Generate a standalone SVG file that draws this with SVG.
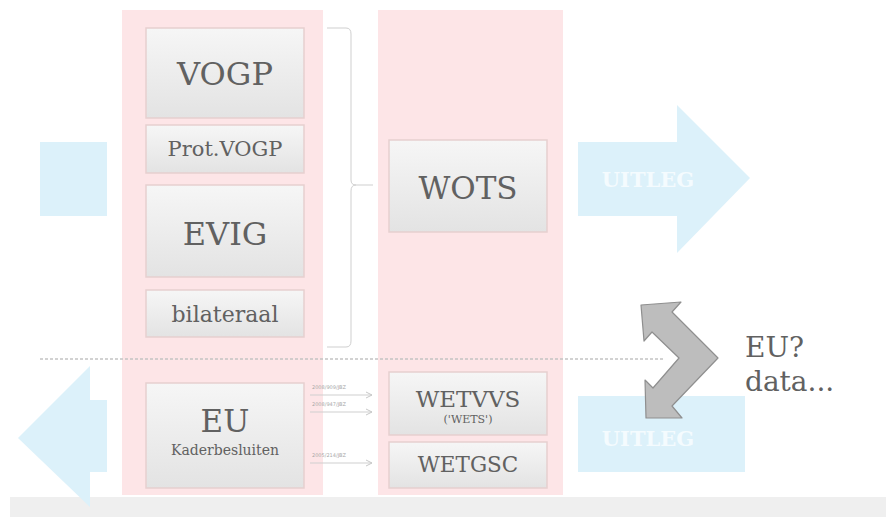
<svg xmlns="http://www.w3.org/2000/svg" width="886" height="517" viewBox="0 0 886 517">
<defs>
<linearGradient id="boxg" x1="0" y1="0" x2="0" y2="1">
<stop offset="0" stop-color="#f6f6f6"/>
<stop offset="1" stop-color="#e3e3e3"/>
</linearGradient>
<marker id="ah" markerWidth="8" markerHeight="8" refX="7" refY="4" orient="auto" markerUnits="userSpaceOnUse">
<path d="M1,1 L7,4 L1,7" fill="none" stroke="#c8c8c8" stroke-width="1"/>
</marker>
</defs>
<style>
.col{fill:#fde5e7}
.box{fill:url(#boxg);stroke:#e6cfcf;stroke-width:1.5}
.t{font-family:"DejaVu Serif","Liberation Serif",serif;fill:#616161;text-anchor:middle}
.blue{fill:#dcf1fa}
.ut{font-family:"DejaVu Serif","Liberation Serif",serif;font-weight:bold;fill:#f4fbfe;font-size:21px;text-anchor:middle}
.lab{font-family:"DejaVu Sans","Liberation Sans",sans-serif;fill:#a8a8a8;font-size:5px}
.conn{stroke:#cfcfcf;stroke-width:1;fill:none}
</style>
<rect x="0" y="0" width="886" height="517" fill="#ffffff"/>
<rect x="10" y="497" width="876" height="20" fill="#efefef"/>
<g id="columns">
<rect class="col" x="122" y="10" width="201" height="485"/>
<rect class="col" x="378" y="10" width="185" height="485"/>
</g>
<g id="blue-left-square"><rect class="blue" x="40" y="142" width="67" height="74"/></g>
<g id="blue-left-arrow"><polygon class="blue" points="18,438 90,366 90,400 107,400 107,472 90,472 90,507"/></g>
<g id="uitleg-top">
<polygon class="blue" points="578,142 677,142 677,105 750,178 677,253 677,216 578,216"/>
<text class="ut" x="648" y="187">UITLEG</text>
</g>
<g id="uitleg-bottom">
<rect class="blue" x="578" y="396" width="167" height="76"/>
<text class="ut" x="648" y="446">UITLEG</text>
</g>
<line x1="40" y1="359" x2="665" y2="359" stroke="#c4c4c4" stroke-width="1.5" stroke-dasharray="3,2"/>
<g id="vogp"><rect class="box" x="146" y="28" width="158" height="90"/><text class="t" x="225" y="85" font-size="32">VOGP</text></g>
<g id="protvogp"><rect class="box" x="146" y="125" width="158" height="48"/><text class="t" x="225" y="156" font-size="21">Prot.VOGP</text></g>
<g id="evig"><rect class="box" x="146" y="185" width="158" height="92"/><text class="t" x="225" y="245" font-size="32">EVIG</text></g>
<g id="bilateraal"><rect class="box" x="146" y="290" width="158" height="47"/><text class="t" x="225" y="322" font-size="22">bilateraal</text></g>
<g id="eu"><rect class="box" x="146" y="383" width="158" height="105"/><text class="t" x="225" y="432" font-size="31">EU</text><text class="t" x="225" y="455" font-size="14">Kaderbesluiten</text></g>
<g id="wots"><rect class="box" x="389" y="140" width="158" height="92"/><text class="t" x="468" y="199" font-size="31">WOTS</text></g>
<g id="wetvvs"><rect class="box" x="389" y="372" width="158" height="63"/><text class="t" x="468" y="407" font-size="23">WETVVS</text><text class="t" x="468" y="423" font-size="11">('WETS')</text></g>
<g id="wetgsc"><rect class="box" x="389" y="442" width="158" height="46"/><text class="t" x="468" y="472" font-size="21.5">WETGSC</text></g>
<g id="connectors">
<path class="conn" d="M327,28 L346,28 Q351,28 351,34 L351,180 Q351,185 356,185 L373,185 M356,185 Q351,185 351,191 L351,341 Q351,347 346,347 L327,347" stroke="#b8b8b8" stroke-width="1.6"/>
<line class="conn" x1="310" y1="395" x2="372" y2="395" marker-end="url(#ah)"/>
<line class="conn" x1="310" y1="412" x2="372" y2="412" marker-end="url(#ah)"/>
<line class="conn" x1="310" y1="463" x2="372" y2="463" marker-end="url(#ah)"/>
<text class="lab" x="312" y="389">2008/909/JBZ</text>
<text class="lab" x="312" y="406">2008/947/JBZ</text>
<text class="lab" x="312" y="457">2005/214/JBZ</text>
</g>
<g id="zigzag-arrow">
<polygon points="641,305 681,302 672,312 718,358 672,406 682,418 646,418 645,380 653,388 679,358 652,332 644,341" fill="#bdbdbd" stroke="#8f8f8f" stroke-width="1.2" stroke-linejoin="round"/>
</g>
<g id="eu-data">
<text x="745" y="357" font-family="DejaVu Serif, Liberation Serif, serif" font-size="28" fill="#616161">EU?</text>
<text x="745" y="391" font-family="DejaVu Serif, Liberation Serif, serif" font-size="28" fill="#616161">data...</text>
</g>
</svg>
